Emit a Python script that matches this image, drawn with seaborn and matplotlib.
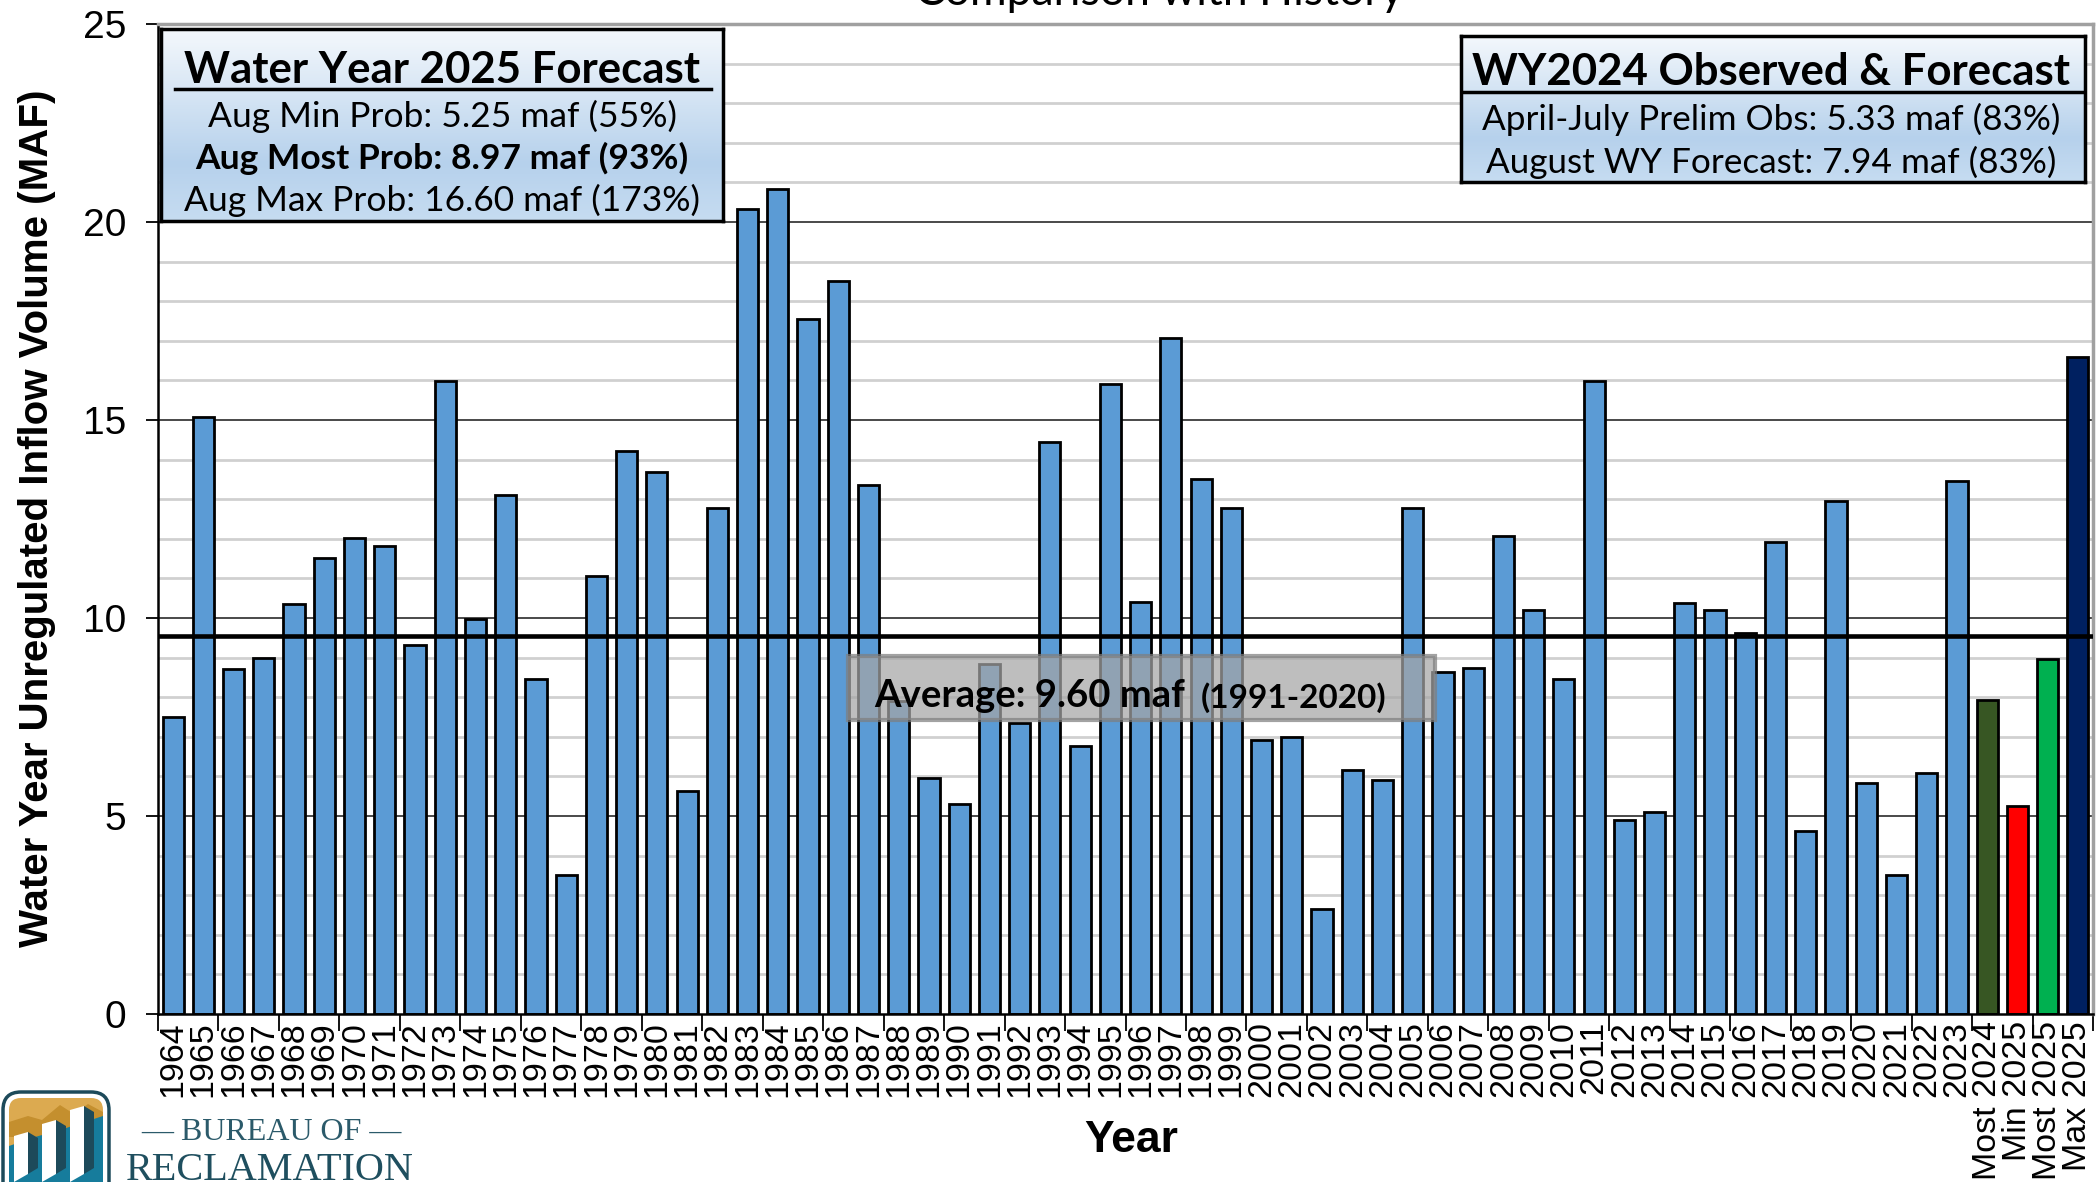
import numpy as np
import pandas as pd
import seaborn as sns
import matplotlib.pyplot as plt
from matplotlib.patches import Rectangle, FancyBboxPatch, Polygon
from matplotlib.lines import Line2D
from matplotlib.colors import LinearSegmentedColormap

# historical water year inflow (maf), 1964-2023
years = [str(y) for y in range(1964, 2024)]
hist_values = [7.50, 15.08, 8.72, 8.98, 10.35, 11.51, 12.01, 11.83, 9.33, 15.99,
               9.98, 13.10, 8.45, 3.52, 11.07, 14.21, 13.69, 5.64, 12.78, 20.33,
               20.83, 17.56, 18.51, 13.37, 7.90, 5.95, 5.31, 8.84, 7.35, 14.44,
               6.78, 15.91, 10.41, 17.08, 13.51, 12.79, 6.92, 7.00, 2.64, 6.16,
               5.90, 12.79, 8.63, 8.74, 12.08, 10.21, 8.45, 15.98, 4.91, 5.09,
               10.38, 10.19, 9.62, 11.92, 4.62, 12.95, 5.84, 3.51, 6.09, 13.45]

# forecast bars
fc_labels = ['Most 2024', 'Min 2025', 'Most 2025', 'Max 2025']
fc_values = [7.94, 5.25, 8.97, 16.60]
fc_colors = ['#375623', '#ff0000', '#00b050', '#002060']
hist_color = '#5b9bd5'

average = 9.55

box1_title = 'Water Year 2025 Forecast'
box1_lines = ['Aug Min Prob: 5.25 maf (55%)',
              'Aug Most Prob: 8.97 maf (93%)',
              'Aug Max Prob: 16.60 maf (173%)']
box2_title = 'WY2024 Observed & Forecast'
box2_lines = ['April-July Prelim Obs: 5.33 maf (83%)',
              'August WY Forecast: 7.94 maf (83%)']

df = pd.DataFrame({'label': years + fc_labels,
                   'value': hist_values + fc_values})
palette = [hist_color] * len(years) + fc_colors

W, H = 2100, 1182
def fx(px):
    return px / W
def fy(py):
    return 1 - py / H

plt.rcParams['font.family'] = ['Liberation Sans', 'DejaVu Sans']
CAL = ['Lato', 'DejaVu Sans']

fig = plt.figure(figsize=(21, 11.82), dpi=100)
ax = fig.add_axes([fx(158), fy(1014), fx(2093) - fx(158), fy(24) - fy(1014)])

sns.barplot(data=df, x='label', y='value', hue='label', palette=palette,
            legend=False, width=0.70, edgecolor='black', linewidth=2,
            saturation=1, ax=ax, zorder=2)

n = len(df)
ax.set_xlim(-0.5, n - 0.5)
ax.set_ylim(0, 25)

# gridlines
for v in range(1, 25):
    if v % 5:
        ax.axhline(v, color='#d0d0d0', lw=2, zorder=0)
    else:
        ax.axhline(v, color='#3a3a3a', lw=1.3, zorder=0)
ax.axhline(average, color='black', lw=3.3, zorder=3)

ax.set_yticks(range(0, 26, 5))
ax.set_yticklabels([str(v) for v in range(0, 26, 5)], fontsize=28)
ax.tick_params(axis='y', length=9, width=1.3, pad=14, color='black')

ax.set_xticks(range(n))
ax.set_xticklabels(df['label'], rotation=90, fontsize=24.5, va='top', ha='center')
ax.tick_params(axis='x', which='major', length=0, pad=5)
ax.set_xticks(np.arange(-0.5, n, 2), minor=True)
ax.tick_params(axis='x', which='minor', length=12, width=1.3, color='black')

ax.set_xlabel('')
ax.set_ylabel('')
for s in ['left', 'bottom']:
    ax.spines[s].set_color('black')
    ax.spines[s].set_linewidth(1.8)
for s in ['top', 'right']:
    ax.spines[s].set_color('#a0a0a0')
    ax.spines[s].set_linewidth(2.5)

# axis titles
fig.text(fx(37), fy(518), 'Water Year Unregulated Inflow Volume (MAF)',
         rotation=90, ha='center', va='center', fontsize=29, fontweight='bold')
fig.text(fx(1131), fy(1141), 'Year', ha='center', va='center',
         fontsize=32, fontweight='bold')
fig.text(fx(1159), fy(5), 'Comparison with History', ha='center',
         va='baseline', fontsize=32, family=CAL)

# gradient info boxes
grad = LinearSegmentedColormap.from_list(
    'g', [(0, '#f4f8fc'), (0.7, '#b6d1ec'), (1, '#c6dcf1')])

def info_box(x0, y0, x1, y1):
    bax = fig.add_axes([fx(x0), fy(y1), fx(x1) - fx(x0), fy(y0) - fy(y1)])
    bax.imshow(np.linspace(0, 1, 200).reshape(-1, 1), cmap=grad,
               aspect='auto', extent=[0, 1, 0, 1], origin='upper')
    bax.set_xticks([])
    bax.set_yticks([])
    for s in bax.spines.values():
        s.set_linewidth(2.5)
        s.set_color('black')
    return bax

info_box(161, 29, 723, 221)
fig.text(fx(442), fy(70), box1_title, ha='center', va='center',
         fontsize=31.5, fontweight='bold', family=CAL)
fig.add_artist(Line2D([fx(175), fx(711)], [fy(89), fy(89)], color='black', lw=2.5))
for txt, yy, wt in zip(box1_lines, [116, 158, 200], ['normal', 'bold', 'normal']):
    fig.text(fx(442), fy(yy), txt, ha='center', va='center', fontsize=25.5,
             fontweight=wt, family=CAL)

info_box(1461, 36, 2085, 182)
fig.text(fx(1771), fy(72), box2_title, ha='center', va='center',
         fontsize=31.5, fontweight='bold', family=CAL)
fig.add_artist(Line2D([fx(1464), fx(2082)], [fy(92), fy(92)], color='black', lw=2.5))
for txt, yy in zip(box2_lines, [119, 162]):
    fig.text(fx(1771), fy(yy), txt, ha='center', va='center', fontsize=25.3,
             family=CAL)

# average label box
fig.add_artist(Rectangle((fx(848), fy(720)), fx(1435) - fx(848), fy(656) - fy(720),
                         transform=fig.transFigure, facecolor='#a6a6a6',
                         alpha=0.72, edgecolor='#7f7f7f', lw=3, zorder=5))
fig.text(fx(874), fy(696), 'Average: 9.60 maf', ha='left', va='center',
         fontsize=27.5, fontweight='bold', family=CAL, zorder=6)
fig.text(fx(1201), fy(698), '(1991-2020)', ha='left', va='center',
         fontsize=24, fontweight='bold', family=CAL, zorder=6)

# Reclamation logo
lax = fig.add_axes([0, 0, fx(112), 96 / H])
lax.set_xlim(0, 112)
lax.set_ylim(0, 96)
lax.axis('off')
teal = '#1d4a5a'
lax.add_patch(FancyBboxPatch((3, -40), 106, 130, boxstyle='round,pad=0,rounding_size=18',
                             facecolor='white', edgecolor=teal, lw=2.5))
lax.add_patch(FancyBboxPatch((9, 20), 94, 64, boxstyle='round,pad=0,rounding_size=12',
                             facecolor='#dcaa50', edgecolor='none'))
lax.add_patch(Polygon([(9, 60), (28, 66), (42, 62), (60, 77), (74, 68), (88, 78),
                       (103, 70), (103, 45), (9, 45)], facecolor='#c48f2e', edgecolor='none'))
lax.add_patch(Polygon([(9, -5), (9, 36), (35, 45), (60, 52), (103, 66), (103, -5)],
                      facecolor='#167c9c', edgecolor='none'))
for cx, top in [(14, 46), (42, 58), (70, 72)]:
    lax.add_patch(Polygon([(cx, 0), (cx, top), (cx + 14, top + 4), (cx + 14, 8)],
                          facecolor='white', edgecolor='none'))
    lax.add_patch(Polygon([(cx + 14, 8), (cx + 14, top + 4), (cx + 24, top - 2), (cx + 24, 14)],
                          facecolor=teal, edgecolor='none'))
fig.text(fx(271), fy(1133), '\u2014 BUREAU OF \u2014', ha='center', va='center',
         fontsize=23, color='#2b5a6a', family=['Liberation Serif', 'DejaVu Serif'])
fig.text(fx(270), fy(1180), 'RECLAMATION', ha='center', va='baseline',
         fontsize=29, color='#1f4f5f', family=['Liberation Serif', 'DejaVu Serif'])

fig.savefig('out.png', dpi=100)
